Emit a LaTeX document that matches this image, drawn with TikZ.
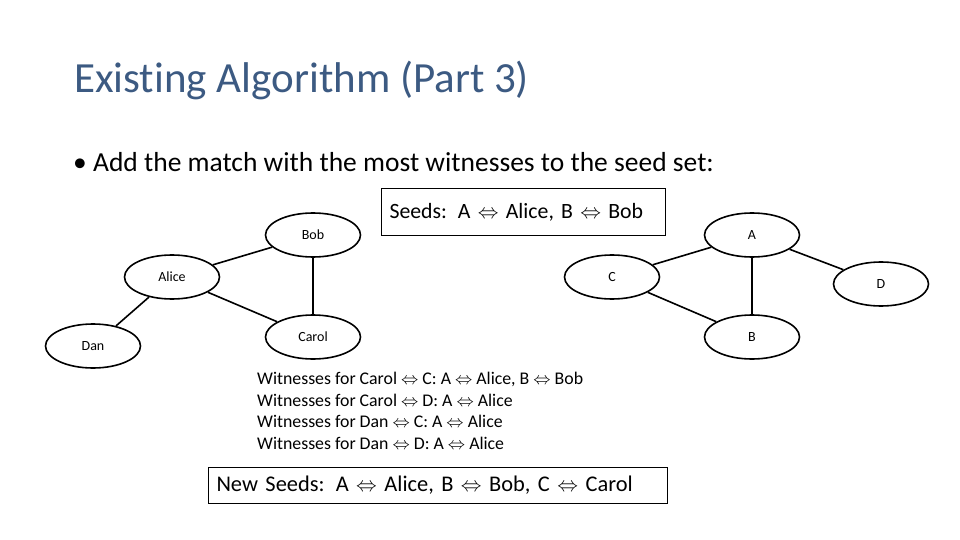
\documentclass[tikz,border=0pt]{standalone}
\usepackage{fontspec}
\setmainfont{Carlito}[RawFeature={-liga}]
\usetikzlibrary{shapes.geometric}
\begin{document}
\begin{tikzpicture}[x=1pt,y=-1pt,
  v/.style={ellipse,draw,line width=1.6pt,minimum width=95pt,minimum height=44pt,font=\fontsize{14}{16}\selectfont},
  e/.style={line width=1.6pt},
  box/.style={draw,line width=1pt,anchor=north west,inner sep=0pt}]
\useasboundingbox (0,0) rectangle (960,540);
\node[anchor=west,font=\fontsize{43}{48}\selectfont,text={rgb,255:red,60;green,90;blue,130},inner sep=0pt] (title) at (74,80) {Existing Algorithm (Part 3)};
\node[anchor=west,font=\fontsize{27.5}{30}\selectfont,inner sep=0pt] (bul) at (73,162) {\textbullet\ Add the match with the most witnesses to the seed set:};
\node[v] (bob) at (313,235) {Bob};
\node[v] (alice) at (172,277) {Alice};
\node[v] (dan) at (93,346) {Dan};
\node[v] (carol) at (313,337) {Carol};
\node[v] (a) at (752,235) {A};
\node[v] (c) at (612,277) {C};
\node[v] (d) at (881,284) {D};
\node[v] (b) at (752,337) {B};
\draw[e] (alice) -- (bob); \draw[e] (alice) -- (carol); \draw[e] (bob) -- (carol); \draw[e] (alice) -- (dan);
\draw[e] (c) -- (a); \draw[e] (c) -- (b); \draw[e] (a) -- (b); \draw[e] (a) -- (d);
\node[box,fill=white,minimum width=284pt,minimum height=47pt,text width=268pt,align=left,font=\fontsize{21.8}{26}\selectfont,inner xsep=7pt] (seeds) at (381,188) {Seeds: A $\Leftrightarrow$ Alice, B $\Leftrightarrow$ Bob};
\node[anchor=north west,align=left,font=\fontsize{17.8}{21.7}\selectfont,inner sep=0pt] (wit) at (257,372) {Witnesses for Carol $\Leftrightarrow$ C: A $\Leftrightarrow$ Alice, B $\Leftrightarrow$ Bob\\Witnesses for Carol $\Leftrightarrow$ D: A $\Leftrightarrow$ Alice\\Witnesses for Dan $\Leftrightarrow$ C: A $\Leftrightarrow$ Alice\\Witnesses for Dan $\Leftrightarrow$ D: A $\Leftrightarrow$ Alice};
\node[box,minimum width=459pt,minimum height=36pt,text width=443pt,align=left,font=\fontsize{22.4}{24}\selectfont,inner xsep=8pt] (ns) at (208,467) {New Seeds: A $\Leftrightarrow$ Alice, B $\Leftrightarrow$ Bob, C $\Leftrightarrow$ Carol};
\end{tikzpicture}
\end{document}
